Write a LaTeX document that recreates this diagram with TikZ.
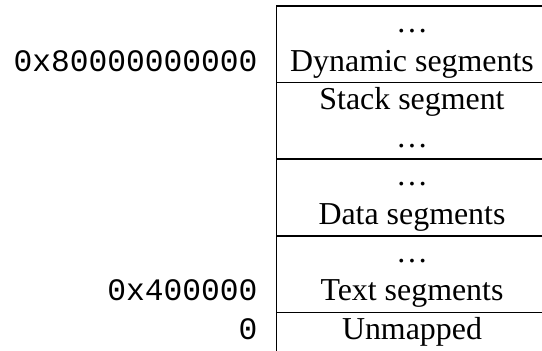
\documentclass[tikz,border=0pt]{standalone}
\usepackage{fontspec}
\setmainfont{Liberation Serif}
\setmonofont{Liberation Mono}
\begin{document}
\begin{tikzpicture}[x=0.3135pt,y=-0.3135pt,
  seg/.style={anchor=base,inner sep=0pt,font=\fontsize{10pt}{12pt}\selectfont},
  addr/.style={anchor=base east,inner sep=0pt,font=\fontsize{9.8pt}{12pt}\selectfont\ttfamily},
  rule/.style={line width=0.45pt}]
\useasboundingbox (0,0) rectangle (542,351);
% rules
\coordinate (tl) at (276.5,6);
\coordinate (bl) at (276.5,351);
\draw[rule] (tl) -- (bl);
\foreach \y in {6,82.6,159.2,235.8,312.4}{
  \draw[rule] (276.5,\y) -- (542,\y);
}
% segment texts
\node[seg] (d1) at (412,32.8) {\ldots};
\node[seg] (dyn) at (412,71.1) {Dynamic segments};
\node[seg] (stk) at (412,109.4) {Stack segment};
\node[seg] (d2) at (412,147.7) {\ldots};
\node[seg] (d3) at (412,186) {\ldots};
\node[seg] (dat) at (412,224.3) {Data segments};
\node[seg] (d4) at (412,262.6) {\ldots};
\node[seg] (txt) at (412,300.9) {Text segments};
\node[seg] (unm) at (412,339.2) {Unmapped};
% addresses
\node[addr] (a1) at (258,71.1) {0x80000000000};
\node[addr] (a2) at (258,300.9) {0x400000};
\node[addr] (a3) at (258,339.2) {0};
\end{tikzpicture}
\end{document}
